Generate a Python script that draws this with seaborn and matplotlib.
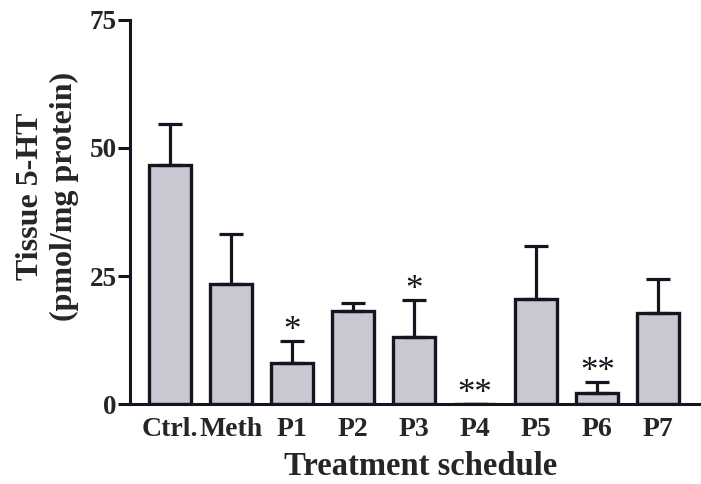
import matplotlib
matplotlib.use("Agg")
import matplotlib.pyplot as plt
import seaborn as sns
import pandas as pd

# Tissue 5-HT per treatment schedule (mean and upper SEM)
groups = ["Ctrl.", "Meth", "P1", "P2", "P3", "P4", "P5", "P6", "P7"]
means = [46.7, 23.4, 8.0, 18.2, 13.1, 0.0, 20.5, 2.1, 17.8]
sems = [8.0, 9.8, 4.3, 1.5, 7.2, 0.0, 10.4, 2.2, 6.6]
signif = ["", "", "*", "", "*", "**", "", "**", ""]
y_ticks = [0, 25, 50, 75]

sns.set_theme(style="white")
plt.rcParams["font.family"] = ["Liberation Serif", "DejaVu Serif"]
plt.rcParams["font.weight"] = "bold"

df = pd.DataFrame({"group": groups, "value": means})

fig = plt.figure(figsize=(7.01, 4.84), dpi=100)
ax = fig.add_axes([0.1855, 0.165, 0.8135, 0.794])

sns.barplot(data=df, x="group", y="value", order=groups, color="#c8c8d2",
            saturation=1, width=0.69, edgecolor="#15151f", linewidth=2.4,
            errorbar=None, ax=ax)

xs = list(range(len(groups)))
ax.errorbar(xs, means, yerr=[[0] * len(sems), sems], fmt="none",
            ecolor="#15151f", elinewidth=2.3, capsize=8.3, capthick=2.3,
            zorder=1)

# significance markers above each bar
for x, m, s, lab in zip(xs, means, sems, signif):
    if lab:
        ax.text(x, m + s + 0.3, lab, ha="center", va="baseline",
                fontsize=25, fontweight="normal", color="#15151f")

ax.set_xlim(-0.656, 8.69)
ax.set_ylim(0, 75)
ax.set_yticks(y_ticks)
ax.set_yticklabels([str(t) for t in y_ticks], fontsize=19.5, fontweight="bold")
ax.set_xticklabels(groups, fontsize=20, fontweight="bold")

for side in ["top", "right"]:
    ax.spines[side].set_visible(False)
for side in ["left", "bottom"]:
    ax.spines[side].set_linewidth(2.2)
    ax.spines[side].set_color("#15151f")

ax.tick_params(axis="y", which="major", left=True, length=8.5, width=2.2,
               color="#15151f", pad=1)
ax.tick_params(axis="x", bottom=False, pad=3)

ax.set_xlabel("Treatment schedule", fontsize=23.5, fontweight="bold")
ax.xaxis.set_label_coords(0.51, -0.122)
ax.set_ylabel("Tissue 5-HT\n(pmol/mg protein)", fontsize=23,
              fontweight="bold", linespacing=1.2)
ax.yaxis.set_label_coords(-0.09, 0.54)

fig.savefig("out.png", dpi=100)
